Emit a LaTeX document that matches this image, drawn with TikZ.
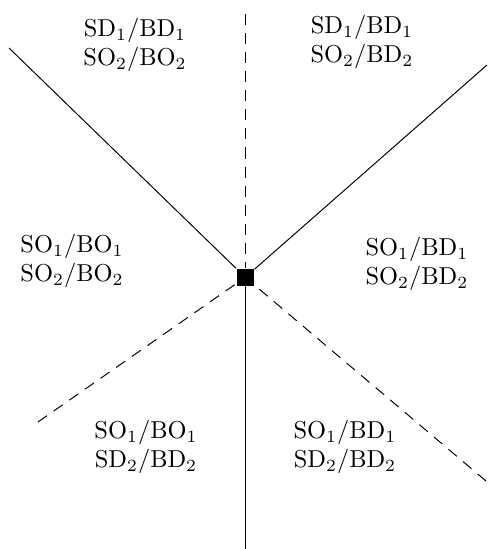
\documentclass[tikz,border=0pt]{standalone}
\begin{document}
\begin{tikzpicture}[x=0.409pt,y=-0.409pt,
  region/.style={align=center,inner sep=0pt,font=\normalsize},
  solidline/.style={line width=0.4pt},
  dashline/.style={line width=0.4pt,dash pattern=on 4.5pt off 3.3pt},
  hub/.style={fill=black,draw=none,minimum size=7.1pt,inner sep=0pt}]
\useasboundingbox (0,0) rectangle (487,549);
\node[hub] (c) at (245.3,277.3) {};
\coordinate (nw) at (9,48);
\coordinate (n) at (245.3,14);
\coordinate (ne) at (487,65);
\coordinate (sw) at (38,422);
\coordinate (se) at (486,481);
\coordinate (s) at (245.3,549);
\draw[solidline] (nw) -- (c);
\draw[solidline] (c) -- (ne);
\draw[solidline] (c) -- (s);
\draw[dashline] (n) -- (c);
\draw[dashline] (sw) -- (c);
\draw[dashline] (se) -- (c);
\node[region] (r1) at (135,45) {SD$_1$/BD$_1$\\SO$_2$/BO$_2$};
\node[region] (r2) at (362,42) {SD$_1$/BD$_1$\\SO$_2$/BD$_2$};
\node[region] (r3) at (72,261) {SO$_1$/BO$_1$\\SO$_2$/BO$_2$};
\node[region] (r4) at (417,264) {SO$_1$/BD$_1$\\SO$_2$/BD$_2$};
\node[region] (r5) at (146,447) {SO$_1$/BO$_1$\\SD$_2$/BD$_2$};
\node[region] (r6) at (345,447) {SO$_1$/BD$_1$\\SD$_2$/BD$_2$};
\end{tikzpicture}
\end{document}
